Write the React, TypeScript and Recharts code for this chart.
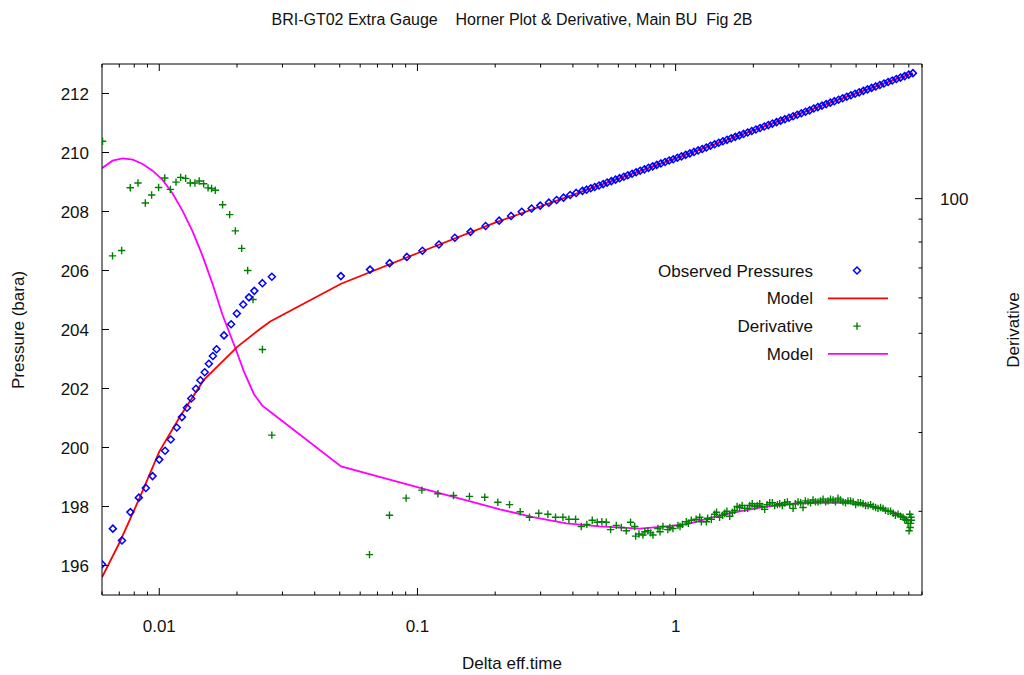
import React from 'react';
import { ComposedChart, XAxis, YAxis, Scatter, Line, Label, Legend } from 'recharts';

const W = 1024;
const H = 675;
const FONT = '"Liberation Sans", Arial, Helvetica, sans-serif';

const TITLE = 'BRI-GT02 Extra Gauge    Horner Plot & Derivative, Main BU  Fig 2B';
const X_TITLE = 'Delta eff.time';
const Y_LEFT_TITLE = 'Pressure (bara)';
const Y_RIGHT_TITLE = 'Derivative';

const X_TICKS = [0.006, 0.007, 0.008, 0.009, 0.01, 0.02, 0.03, 0.04, 0.05, 0.06, 0.07, 0.08, 0.09, 0.1, 0.2, 0.3, 0.4, 0.5, 0.6, 0.7, 0.8, 0.9, 1, 2, 3, 4, 5, 6, 7, 8, 9];
const X_LABELS = [0.01, 0.1, 1];
const P_TICKS = [196, 198, 200, 202, 204, 206, 208, 210, 212];
const D_TICKS = [20, 30, 40, 50, 60, 70, 80, 90, 100];
const D_LABELS = [100];

// Observed pressures
const OBS_T = [
  0.006, 0.00661, 0.00717, 0.00773, 0.00833, 0.00887, 0.00942, 0.01, 0.01053, 0.01108,
  0.01169, 0.01224, 0.0128, 0.0133, 0.01387, 0.01443, 0.015, 0.01556, 0.01613, 0.01667,
  0.01781, 0.01898, 0.01997, 0.02114, 0.02225, 0.02334, 0.02509, 0.02729,
  0.0505, 0.0655, 0.078, 0.091, 0.1045, 0.1211, 0.1396, 0.1605, 0.1836, 0.2072,
  0.2305, 0.2535, 0.2767, 0.2989, 0.3228, 0.3459, 0.368, 0.3904, 0.412, 0.4355,
  0.452, 0.469, 0.486, 0.505, 0.524, 0.543, 0.564, 0.585, 0.607, 0.63,
  0.653, 0.678, 0.703, 0.729, 0.757, 0.785, 0.815, 0.845, 0.877, 0.91,
  0.944, 0.979, 1.016, 1.054, 1.094, 1.135, 1.178, 1.222, 1.268, 1.315,
  1.365, 1.416, 1.469, 1.524, 1.581, 1.641, 1.702, 1.766, 1.832, 1.901,
  1.972, 2.046, 2.123, 2.203, 2.286, 2.371, 2.46, 2.553, 2.649, 2.748,
  2.851, 2.958, 3.069, 3.184, 3.304, 3.428, 3.556, 3.69, 3.828, 3.972,
  4.121, 4.276, 4.436, 4.603, 4.775, 4.955, 5.14, 5.333, 5.534, 5.741,
  5.957, 6.18, 6.412, 6.653, 6.902, 7.161, 7.43, 7.709, 7.998, 8.299,
];
const OBS_P = [
  196.04, 197.25, 196.85, 197.81, 198.3, 198.63, 199.03, 199.59, 199.89, 200.27,
  200.68, 201.03, 201.35, 201.66, 201.99, 202.28, 202.55, 202.84, 203.1, 203.33,
  203.8, 204.18, 204.54, 204.85, 205.09, 205.31, 205.57, 205.79,
  205.81, 206.03, 206.25, 206.46, 206.67, 206.88, 207.11, 207.31, 207.51, 207.69,
  207.85, 207.99, 208.1, 208.2, 208.3, 208.39, 208.47, 208.56, 208.63, 208.7,
  208.74, 208.79, 208.83, 208.88, 208.93, 208.98, 209.03, 209.08, 209.13, 209.18,
  209.23, 209.28, 209.33, 209.38, 209.43, 209.48, 209.53, 209.58, 209.63, 209.68,
  209.73, 209.77, 209.82, 209.87, 209.92, 209.97, 210.02, 210.07, 210.12, 210.17,
  210.23, 210.28, 210.33, 210.38, 210.43, 210.48, 210.53, 210.58, 210.63, 210.68,
  210.73, 210.78, 210.83, 210.88, 210.93, 210.98, 211.03, 211.08, 211.13, 211.18,
  211.23, 211.28, 211.33, 211.38, 211.43, 211.49, 211.54, 211.59, 211.64, 211.69,
  211.74, 211.79, 211.84, 211.89, 211.94, 211.99, 212.04, 212.09, 212.14, 212.19,
  212.24, 212.29, 212.34, 212.39, 212.44, 212.49, 212.54, 212.59, 212.64, 212.69,
];

// Pressure model
const PM_T = [0.006, 0.00702, 0.0084, 0.01, 0.01205, 0.01488, 0.0201, 0.0244, 0.0269, 0.0506, 0.105, 0.2, 0.4355, 1, 2, 4, 8.3];
const PM_P = [195.6, 196.78, 198.3, 199.86, 201.06, 202.29, 203.42, 204.0, 204.27, 205.55, 206.66, 207.62, 208.68, 209.8, 210.75, 211.7, 212.69];

// Derivative points
const DER_T = [
  0.00603, 0.00659, 0.00715, 0.00772, 0.00827, 0.00883, 0.00934, 0.00994, 0.0105, 0.01104,
  0.01161, 0.0121, 0.01265, 0.01318, 0.01374, 0.01428, 0.01485, 0.01545, 0.01595, 0.01649,
  0.01759, 0.01873, 0.01971, 0.02085, 0.022, 0.02307, 0.02509, 0.02729,
  0.0652, 0.0779, 0.0904, 0.104, 0.12, 0.1379, 0.159, 0.1823, 0.2048,
  0.2273, 0.25, 0.2716, 0.295, 0.32, 0.3426, 0.366, 0.386, 0.4097, 0.431,
  0.453, 0.4754, 0.497, 0.518, 0.5386, 0.56, 0.589, 0.616, 0.644, 0.669,
  0.694, 0.721, 0.747, 0.781, 0.817, 0.854, 0.893, 0.933, 0.976, 1.021,
  1.062, 1.1, 1.15, 1.2, 1.258, 1.315, 1.375, 1.416, 1.48, 1.549,
  1.62, 1.693, 1.77, 1.851, 1.935, 2.024, 2.117, 2.213, 2.314, 2.419,
  2.53, 2.645, 2.767, 2.85, 2.98, 3.115, 3.257, 3.405, 3.562, 3.724,
  3.894, 4.07, 4.256, 4.45, 4.65, 4.87, 5.09, 5.32, 5.565, 5.818,
  6.08, 6.36, 6.65, 6.96, 7.27, 7.6, 7.84, 8.02, 8.07, 8.13, 8.19,
  0.7, 0.76, 0.8, 0.87, 0.95, 1.04, 1.12, 1.24, 1.33, 1.44,
  1.52, 1.58, 1.66, 1.73, 1.81, 1.9, 1.98, 2.07, 2.16, 2.26,
  2.37, 2.48, 2.59, 2.71, 2.91, 3.05, 3.18, 3.33, 3.48, 3.64,
  3.81, 3.98, 4.16, 4.35, 4.55, 4.76, 4.98, 5.2, 5.44, 5.69,
  5.95, 6.22, 6.5, 6.8, 7.1, 7.43, 7.72, 7.95, 8.1, 8.16,
];
const DER_D = [
  134.4, 74.5, 76.6, 105.8, 108.4, 97.8, 101.9, 105.9, 111.2, 104.9,
  108.9, 111.6, 111.0, 108.4, 108.4, 109.5, 108.0, 105.7, 105.4, 104.4,
  96.9, 92.1, 84.7, 77.4, 69.1, 59.5, 46.0, 29.6,
  16.0, 19.6, 21.4, 22.3, 21.9, 21.7, 21.6, 21.5, 20.96,
  20.7, 19.95, 19.4, 19.8, 19.7, 19.4, 19.4, 19.2, 19.2, 18.5,
  18.7, 19.1, 18.9, 18.95, 18.9, 18.2, 18.6, 18.4, 18.1, 18.9,
  18.5, 17.8, 17.7, 18.1, 17.7, 18.3, 18.5, 18.2, 18.3, 18.6,
  18.7, 18.95, 19.1, 19.2, 18.95, 18.95, 19.2, 19.7, 19.4, 19.8,
  19.5, 20.1, 20.4, 20.3, 20.6, 20.5, 20.8, 20.2, 20.9, 20.6,
  20.8, 20.9, 20.7, 20.3, 21.0, 20.4, 21.0, 21.2, 21.0, 21.3,
  21.1, 21.2, 21.4, 21.0, 21.1, 21.0, 20.9, 20.8, 20.6, 20.5,
  20.3, 20.3, 20.0, 19.8, 19.7, 19.4, 19.1, 18.1, 19.7, 18.8, 19.1,
  17.6, 18.0, 17.9, 18.0, 18.4, 18.5, 18.8, 19.4, 19.3, 19.9,
  19.6, 20.0, 19.9, 20.5, 20.6, 20.3, 20.8, 20.6, 20.5, 20.7,
  20.9, 20.7, 20.6, 21.0, 20.8, 20.9, 21.1, 20.9, 21.0, 21.1,
  21.0, 21.3, 21.0, 21.2, 20.9, 21.1, 20.7, 20.9, 20.6, 20.7,
  20.4, 20.4, 20.1, 20.0, 19.6, 19.5, 19.2, 18.8, 18.4, 19.4,
];

// Derivative model
const DM_T = [
  0.006, 0.00659, 0.00721, 0.0079, 0.00862, 0.00942, 0.0103, 0.01126, 0.0123, 0.01346,
  0.0147, 0.01608, 0.01757, 0.0198, 0.0213, 0.0233, 0.025, 0.0269, 0.0506, 0.104,
  0.2087, 0.28, 0.377, 0.5075, 0.725, 0.92, 1.1, 1.395, 1.77, 2.247,
  2.85, 3.62, 4.59, 5.49, 6.55, 7.38, 8.19,
];
const DM_D = [
  117, 121.6, 123.0, 122.2, 119.5, 115.5, 110.1, 102.7, 94.0, 84.5,
  74.6, 64.5, 55, 46, 41, 36.5, 34.5, 33.4, 25.2, 22.5,
  20.2, 19.4, 18.8, 18.5, 18.3, 18.5, 18.7, 19.4, 20.0, 20.5,
  20.8, 20.9, 20.9, 20.6, 20.1, 19.7, 18.95,
];

const zip = (xs: number[], ys: number[]) => xs.map((x, i) => ({ x, y: ys[i] }));
const obsData = zip(OBS_T, OBS_P);
const pmData = zip(PM_T, PM_P);
const derData = zip(DER_T, DER_D);
const dmData = zip(DM_T, DM_D);

const BLUE = '#0000ff';
const RED = '#ff0000';
const GREEN = '#008000';
const MAGENTA = '#ff00ff';

const Diamond = (props: any) => {
  const { cx, cy } = props;
  if (cx == null || cy == null) return null;
  const r = 3.5;
  return <path d={`M${cx},${cy - r}L${cx + r},${cy}L${cx},${cy + r}L${cx - r},${cy}Z`} fill="none" stroke={BLUE} strokeWidth={1.5} />;
};

const Plus = (props: any) => {
  const { cx, cy } = props;
  if (cx == null || cy == null) return null;
  const r = 3.7;
  return <path d={`M${cx - r},${cy}H${cx + r}M${cx},${cy - r}V${cy + r}`} fill="none" stroke={GREEN} strokeWidth={1.4} />;
};

const textProps = { fontFamily: FONT, fill: '#111' };

const BottomTick = (props: any) => {
  const { x, y, payload } = props;
  const v = payload.value;
  const major = X_LABELS.includes(v);
  return (
    <g>
      <line x1={x} y1={y} x2={x} y2={y - (major ? 7 : 3.5)} stroke="#000" strokeWidth={1} />
      {major && (
        <text x={x} y={y + 37} textAnchor="middle" fontSize={17} {...textProps}>{String(v)}</text>
      )}
    </g>
  );
};

const TopTick = (props: any) => {
  const { x, y, payload } = props;
  const major = X_LABELS.includes(payload.value);
  return <line x1={x} y1={y} x2={x} y2={y + (major ? 7 : 3.5)} stroke="#000" strokeWidth={1} />;
};

const LeftTick = (props: any) => {
  const { x, y, payload } = props;
  return (
    <g>
      <line x1={x} y1={y} x2={x + 7} y2={y} stroke="#000" strokeWidth={1} />
      <text x={x - 13} y={y + 6} textAnchor="end" fontSize={17} {...textProps}>{String(payload.value)}</text>
    </g>
  );
};

const RightTick = (props: any) => {
  const { x, y, payload } = props;
  const major = D_LABELS.includes(payload.value);
  return (
    <g>
      <line x1={x} y1={y} x2={x - (major ? 7 : 3.5)} y2={y} stroke="#000" strokeWidth={1} />
      {major && (
        <text x={x + 18} y={y + 6} textAnchor="start" fontSize={17} {...textProps}>{String(payload.value)}</text>
      )}
    </g>
  );
};

const LEGEND_ITEMS = [
  { name: 'Observed Pressures', kind: 'diamond', color: BLUE },
  { name: 'Model', kind: 'line', color: RED },
  { name: 'Derivative', kind: 'plus', color: GREEN },
  { name: 'Model', kind: 'line', color: MAGENTA },
];

const renderLegend = () => (
  <svg width={300} height={120} style={{ display: 'block' }}>
    {LEGEND_ITEMS.map((it, i) => {
      const cy = 20.5 + i * 27.8;
      return (
        <g key={i}>
          <text x={213} y={cy + 6} textAnchor="end" fontSize={17} {...textProps}>{it.name}</text>
          {it.kind === 'line' && <line x1={228} y1={cy} x2={288} y2={cy} stroke={it.color} strokeWidth={1.8} />}
          {it.kind === 'diamond' && <Diamond cx={257} cy={cy} />}
          {it.kind === 'plus' && <Plus cx={257} cy={cy} />}
        </g>
      );
    })}
  </svg>
);

export default function App() {
  return (
    <div style={{ position: 'absolute', left: 0, top: 0, width: W, height: H, background: '#fff' }}>
      <ComposedChart width={W} height={H} margin={{ top: 0, right: 0, bottom: 0, left: 0 }}>
        <XAxis
          xAxisId="b"
          dataKey="x"
          type="number"
          scale="log"
          domain={[0.006, 9]}
          allowDataOverflow
          ticks={X_TICKS}
          interval={0}
          orientation="bottom"
          height={80}
          tickSize={0}
          tickMargin={0}
          tickLine={false}
          tick={BottomTick}
          axisLine={{ stroke: '#000', strokeWidth: 1 }}
        >
          <Label
            content={() => (
              <text x={512} y={669} textAnchor="middle" fontSize={17} {...textProps}>{X_TITLE}</text>
            )}
          />
        </XAxis>
        <XAxis
          xAxisId="t"
          dataKey="x"
          type="number"
          scale="log"
          domain={[0.006, 9]}
          allowDataOverflow
          ticks={X_TICKS}
          interval={0}
          orientation="top"
          height={64}
          tickSize={0}
          tickMargin={0}
          tickLine={false}
          tick={TopTick}
          axisLine={{ stroke: '#000', strokeWidth: 1 }}
        >
          <Label
            content={() => (
              <text x={512} y={25} textAnchor="middle" fontSize={16} xmlSpace="preserve" style={{ whiteSpace: 'pre' }} {...textProps}>{TITLE}</text>
            )}
          />
        </XAxis>
        <YAxis
          yAxisId="p"
          type="number"
          domain={[195, 213]}
          allowDataOverflow
          ticks={P_TICKS}
          interval={0}
          orientation="left"
          width={102}
          tickSize={0}
          tickMargin={0}
          tickLine={false}
          tick={LeftTick}
          axisLine={{ stroke: '#000', strokeWidth: 1 }}
        >
          <Label
            content={() => (
              <text x={24} y={330} textAnchor="middle" fontSize={17} transform="rotate(-90 24 330)" {...textProps}>{Y_LEFT_TITLE}</text>
            )}
          />
        </YAxis>
        <YAxis
          yAxisId="d"
          type="number"
          scale="log"
          domain={[13, 200]}
          allowDataOverflow
          ticks={D_TICKS}
          interval={0}
          orientation="right"
          width={102}
          tickSize={0}
          tickMargin={0}
          tickLine={false}
          tick={RightTick}
          axisLine={{ stroke: '#000', strokeWidth: 1 }}
        >
          <Label
            content={() => (
              <text x={1019} y={330} textAnchor="middle" fontSize={17} transform="rotate(-90 1019 330)" {...textProps}>{Y_RIGHT_TITLE}</text>
            )}
          />
        </YAxis>
        <Legend
          layout="vertical"
          align="center"
          verticalAlign="middle"
          content={renderLegend}
          wrapperStyle={{ left: 600, top: 250, width: 300, height: 120 }}
        />
        <Line
          data={dmData}
          dataKey="y"
          xAxisId="b"
          yAxisId="d"
          type="linear"
          stroke={MAGENTA}
          strokeWidth={1.8}
          dot={false}
          activeDot={false}
          isAnimationActive={false}
          name="Model"
        />
        <Scatter
          data={derData}
          dataKey="y"
          xAxisId="b"
          yAxisId="d"
          shape={Plus}
          isAnimationActive={false}
          name="Derivative"
        />
        <Scatter
          data={obsData}
          dataKey="y"
          xAxisId="b"
          yAxisId="p"
          shape={Diamond}
          isAnimationActive={false}
          name="Observed Pressures"
        />
        <Line
          data={pmData}
          dataKey="y"
          xAxisId="b"
          yAxisId="p"
          type="linear"
          stroke={RED}
          strokeWidth={1.8}
          dot={false}
          activeDot={false}
          isAnimationActive={false}
          name="Model"
        />
      </ComposedChart>
    </div>
  );
}
